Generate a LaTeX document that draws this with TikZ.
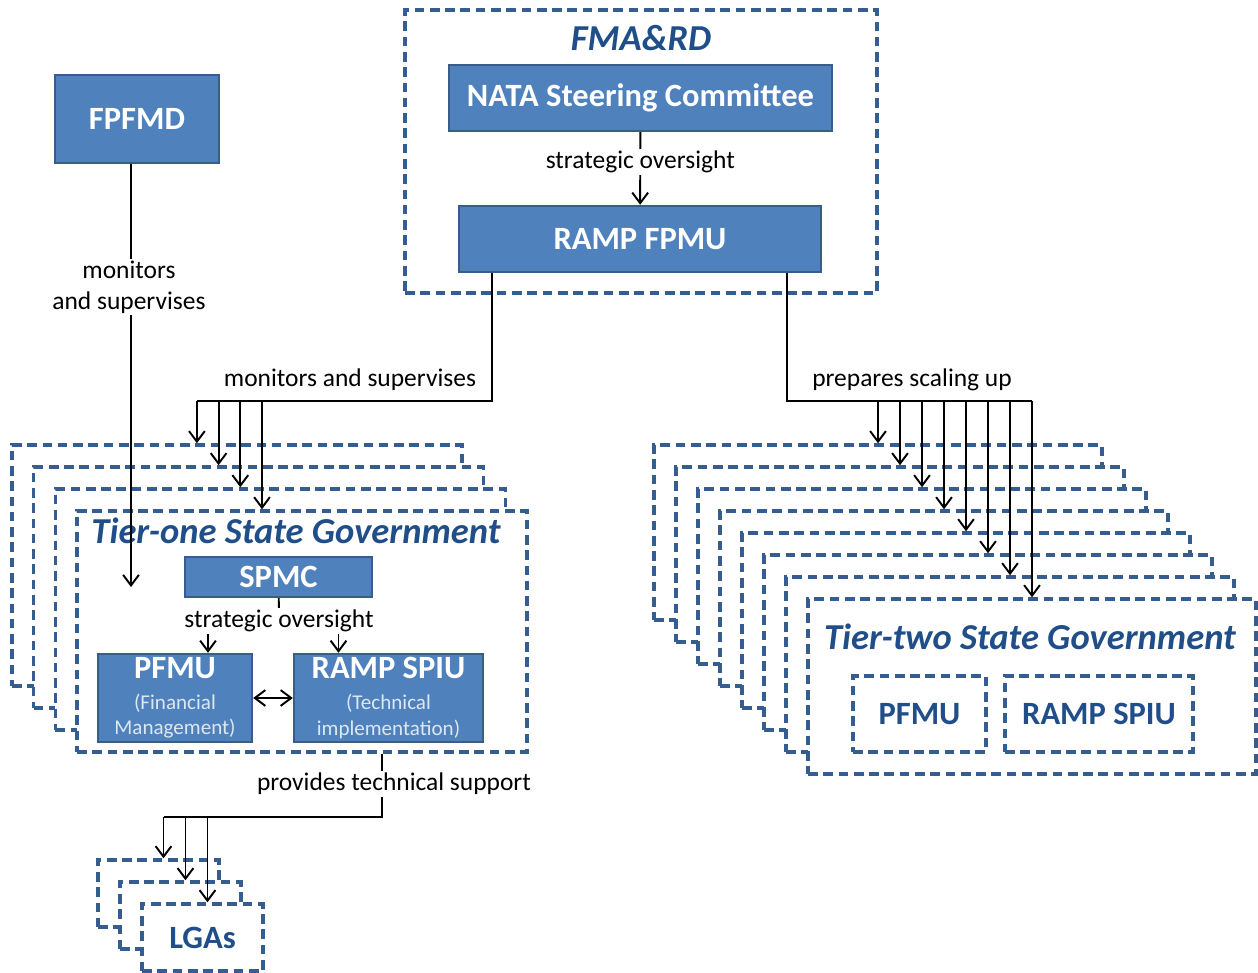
\documentclass[tikz,border=0pt]{standalone}
\usepackage{fontspec}
\setmainfont{Carlito}
\usetikzlibrary{arrows.meta}
\usetikzlibrary{calc}

\definecolor{boxblue}{HTML}{4F81BD}
\definecolor{boxedge}{HTML}{385D8A}
\definecolor{dashblue}{HTML}{365D8F}
\definecolor{titleblue}{HTML}{1F4E89}
\definecolor{subwhite}{HTML}{DDE7F3}

\newcommand{\unitname}[1]{{\fontsize{18.5}{22}\selectfont\bfseries\color{white}#1}}

\tikzset{
  solidbox/.style={draw=boxedge, fill=boxblue, line width=1.4pt, text=white,
    font=\fontsize{18.5}{22}\selectfont\bfseries, inner sep=0pt},
  unitbox/.style={solidbox, align=center, text=subwhite,
    font=\fontsize{12}{14.5}\selectfont},
  dashbox/.style={draw=dashblue, fill=white, line width=2pt,
    dash pattern=on 5.5pt off 3.2pt, inner sep=0pt},
  innerbox/.style={dashbox, text=titleblue, font=\fontsize{18.5}{22}\selectfont\bfseries},
  lbl/.style={font=\fontsize{14.5}{17.5}\selectfont, text=black, inner sep=1pt,
    fill=white, align=center},
  ttl/.style={font=\fontsize{20.8}{24}\selectfont\bfseries\itshape, text=titleblue},
  conn/.style={black, line width=1.1pt},
  arr/.style={conn, -{Straight Barb[length=6pt,width=9pt]}},
  arrboth/.style={conn, {Straight Barb[length=6pt,width=9pt]}-{Straight Barb[length=6pt,width=9pt]}},
}

\begin{document}
\begin{tikzpicture}[x=0.02cm, y=-0.02cm]
  \useasboundingbox (0,0) rectangle (1258,973);

  % federal level
  \node[dashbox, minimum width=9.44cm, minimum height=5.66cm] (fma) at (641,151.5) {};
  \node[ttl] (fmatitle) at (641,38) {FMA\&RD};
  \node[solidbox, minimum width=7.66cm, minimum height=1.32cm] (nata) at (640.5,98) {NATA Steering Committee};
  \node[solidbox, minimum width=7.24cm, minimum height=1.32cm] (fpmu) at (640,239) {RAMP FPMU};
  \draw[arr] (nata) -- (fpmu) node[lbl, pos=0.41] (so1) {strategic oversight};

  \node[solidbox, minimum width=3.28cm, minimum height=1.76cm] (fpfmd) at (137,119) {FPFMD};

  % tier-one states
  \foreach \i in {1,...,4}
    \node[dashbox, minimum width=9cm, minimum height=4.82cm] (t1-\i) at ({302-21.7*(4-\i)},{631.5-22*(4-\i)}) {};
  \node[ttl] (t1title) at (296,531) {Tier-one State Government};
  \node[solidbox, minimum width=3.74cm, minimum height=0.8cm] (spmc) at (278.5,577) {SPMC};
  \node[unitbox, minimum width=3.08cm, minimum height=1.76cm] (pfmu) at (175,698)
    {\unitname{PFMU}\\[3pt](Financial\\Management)};
  \node[unitbox, minimum width=3.78cm, minimum height=1.76cm] (spiu) at (388.5,698)
    {\unitname{RAMP SPIU}\\[3pt](Technical\\implementation)};
  \draw[arrboth] (pfmu) -- (spiu);
  \node[lbl] (so2) at (279,621) {strategic oversight};
  \draw[conn] (spmc) -- (so2);
  \coordinate (p1) at ($(pfmu.north)+(33,0)$);
  \coordinate (p2) at ($(spiu.north)+(-50,0)$);
  \draw[arr] (so2.south -| p1) -- (p1);
  \draw[arr] (so2.south -| p2) -- (p2);

  % tier-two states
  \foreach \i in {1,...,8}
    \node[dashbox, minimum width=8.96cm, minimum height=3.5cm] (t2-\i) at ({1032-22*(8-\i)},{686.5-22*(8-\i)}) {};
  \node[ttl] (t2title) at (1030,637) {Tier-two State Government};
  \node[innerbox, minimum width=2.66cm, minimum height=1.52cm] (pfmu2) at (919.5,714) {PFMU};
  \node[innerbox, minimum width=3.76cm, minimum height=1.52cm] (spiu2) at (1099,714) {RAMP SPIU};

  % local governments
  \foreach \i in {1,2}
    \node[dashbox, minimum width=2.42cm, minimum height=1.34cm] (lga-\i) at ({158.5+22*(\i-1)},{893.5+22*(\i-1)}) {};
  \node[innerbox, minimum width=2.42cm, minimum height=1.34cm] (lga-3) at (202.5,937.5) {LGAs};

  % FPFMD to tier one
  \coordinate (fpend) at (131,587);
  \draw[arr] (fpend |- fpfmd.south) -- (fpend);
  \node[lbl] (mon1) at (129,287) {monitors\\and supervises};

  % FPMU to tier one
  \coordinate (busL) at (492,401);
  \foreach \i in {1,...,4}
    \coordinate (ta\i) at ($(t1-\i.north)+(-40,0)$);
  \draw[conn] (busL |- fpmu.south) -- (busL) -- (ta1 |- busL);
  \foreach \i in {1,...,4}
    \draw[arr] (ta\i |- busL) -- (ta\i);
  \node[lbl] (mon2) at (350,380) {monitors and supervises};

  % FPMU to tier two
  \coordinate (busR) at (787,401);
  \draw[conn] (busR |- fpmu.south) -- (busR) -- (t2-8.north |- busR);
  \foreach \i in {1,...,8}
    \draw[arr] (t2-\i.north |- busR) -- (t2-\i.north);
  \node[lbl] (prep) at (912,380) {prepares scaling up};

  % tier one to LGAs
  \coordinate (busB) at (382,817);
  \foreach \i in {1,...,3}
    \coordinate (la\i) at ($(lga-\i.north)+(5,0)$);
  \draw[conn] (busB |- t1-4.south) -- (busB) -- (la1 |- busB);
  \foreach \i in {1,...,3}
    \draw[arr] (la\i |- busB) -- (la\i);
  \node[lbl] (pts) at (394,784) {provides technical support};
\end{tikzpicture}
\end{document}
